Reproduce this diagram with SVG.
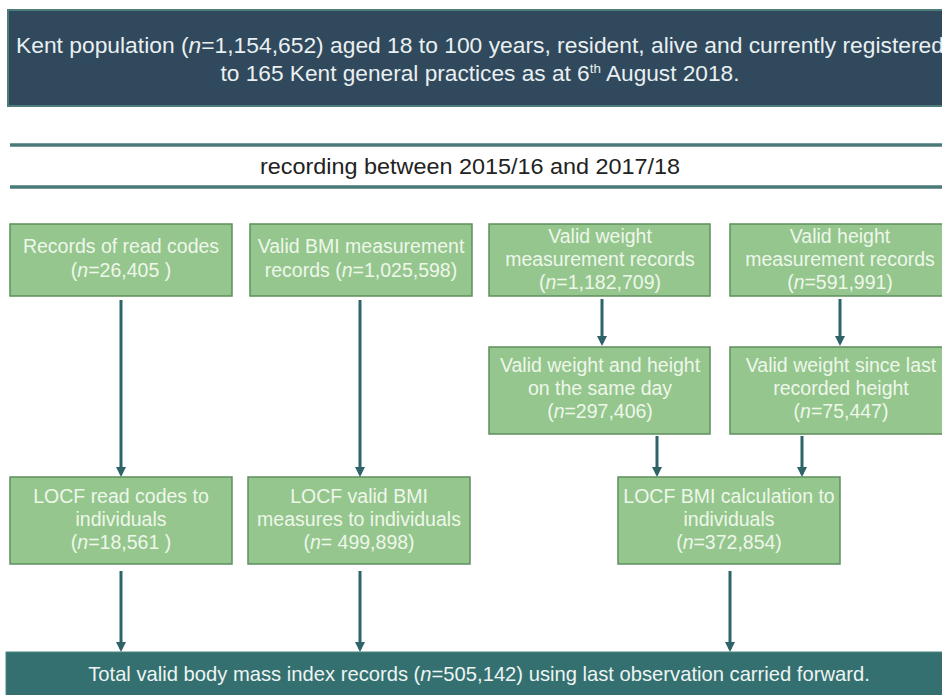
<svg xmlns="http://www.w3.org/2000/svg" width="942" height="695" viewBox="0 0 942 695">
<defs>
<style>
.hdr{fill:#30495c;stroke:#4d7c7b;stroke-width:2}
.foot{fill:#33706f;stroke:#4d8584;stroke-width:1}
.box{fill:#95c68e;stroke:#5f8e5c;stroke-width:1.5}
.bt{font-family:"Liberation Sans",Arial,sans-serif;font-size:19.5px;fill:#eef7ea;text-anchor:middle}
.ct{font-family:"Liberation Sans",Arial,sans-serif;text-anchor:middle}
.rule{stroke:#4a7a78;stroke-width:3.5}
.arr{stroke:#2e6468;stroke-width:3;fill:none;marker-end:url(#ah)}
.it{font-style:italic}
</style>
<marker id="ah" viewBox="0 0 10 10" refX="7" refY="5" markerWidth="11" markerHeight="10" markerUnits="userSpaceOnUse" orient="auto">
<path d="M0,0 L10,5 L0,10 z" fill="#2e6468"/>
</marker>
</defs>
<rect width="942" height="695" fill="#ffffff"/>

<g id="header">
<rect class="hdr" x="8" y="10" width="950" height="96"/>
<text class="ct" x="480" y="53" font-size="22" fill="#eaf0f2" textLength="928" lengthAdjust="spacingAndGlyphs">Kent population (<tspan class="it">n</tspan>=1,154,652) aged 18 to 100 years, resident, alive and currently registered</text>
<text class="ct" x="480" y="81" font-size="22" fill="#eaf0f2" textLength="519" lengthAdjust="spacingAndGlyphs">to 165 Kent general practices as at 6<tspan font-size="13" dy="-8">th</tspan><tspan dy="8"> August 2018.</tspan></text>
</g>

<g id="period">
<line class="rule" x1="10" y1="145" x2="942" y2="145"/>
<line class="rule" x1="10" y1="187" x2="942" y2="187"/>
<text class="ct" x="470" y="174" font-size="21.5" fill="#222222" textLength="420" lengthAdjust="spacingAndGlyphs">recording between  2015/16 and 2017/18</text>
</g>

<g id="n1">
<rect class="box" x="10" y="224" width="222" height="72"/>
<text class="bt" x="121" y="253">Records of read codes</text>
<text class="bt" x="121" y="277">(<tspan class="it">n</tspan>=26,405 )</text>
</g>
<g id="n2">
<rect class="box" x="250" y="224" width="222" height="72"/>
<text class="bt" x="361" y="253">Valid BMI measurement</text>
<text class="bt" x="361" y="277">records (<tspan class="it">n</tspan>=1,025,598)</text>
</g>
<g id="n3">
<rect class="box" x="489" y="224" width="221" height="72"/>
<text class="bt" x="600" y="243">Valid weight</text>
<text class="bt" x="600" y="266">measurement records</text>
<text class="bt" x="600" y="289">(<tspan class="it">n</tspan>=1,182,709)</text>
</g>
<g id="n4">
<rect class="box" x="730" y="224" width="222" height="72"/>
<text class="bt" x="840" y="243">Valid height</text>
<text class="bt" x="840" y="266">measurement records</text>
<text class="bt" x="840" y="289">(<tspan class="it">n</tspan>=591,991)</text>
</g>
<g id="n5">
<rect class="box" x="489" y="347" width="221" height="87"/>
<text class="bt" x="600" y="372">Valid weight and height</text>
<text class="bt" x="600" y="395">on the same day</text>
<text class="bt" x="600" y="418">(<tspan class="it">n</tspan>=297,406)</text>
</g>
<g id="n6">
<rect class="box" x="730" y="347" width="222" height="87"/>
<text class="bt" x="841" y="372">Valid weight since last</text>
<text class="bt" x="841" y="395">recorded height</text>
<text class="bt" x="841" y="418">(<tspan class="it">n</tspan>=75,447)</text>
</g>
<g id="n7">
<rect class="box" x="10" y="477" width="222" height="87"/>
<text class="bt" x="121" y="503">LOCF read codes to</text>
<text class="bt" x="121" y="526">individuals</text>
<text class="bt" x="121" y="549">(<tspan class="it">n</tspan>=18,561 )</text>
</g>
<g id="n8">
<rect class="box" x="248" y="477" width="222" height="87"/>
<text class="bt" x="359" y="503">LOCF valid BMI</text>
<text class="bt" x="359" y="526">measures to individuals</text>
<text class="bt" x="359" y="549">(<tspan class="it">n</tspan>= 499,898)</text>
</g>
<g id="n9">
<rect class="box" x="618" y="477" width="222" height="87"/>
<text class="bt" x="729" y="503">LOCF BMI calculation to</text>
<text class="bt" x="729" y="526">individuals</text>
<text class="bt" x="729" y="549">(<tspan class="it">n</tspan>=372,854)</text>
</g>

<g id="footer">
<rect class="foot" x="6" y="652" width="950" height="50"/>
<text class="ct" x="479" y="681" font-size="20.2" fill="#eef4f4">Total valid body mass index records (<tspan class="it">n</tspan>=505,142) using last observation carried forward.</text>
</g>

<g id="connectors">
<line class="arr" x1="121" y1="300" x2="121" y2="474"/>
<line class="arr" x1="360" y1="300" x2="360" y2="474"/>
<line class="arr" x1="602" y1="299" x2="602" y2="343"/>
<line class="arr" x1="840" y1="299" x2="840" y2="343"/>
<line class="arr" x1="657" y1="436" x2="657" y2="474"/>
<line class="arr" x1="802" y1="436" x2="802" y2="474"/>
<line class="arr" x1="121" y1="571" x2="121" y2="649"/>
<line class="arr" x1="360" y1="571" x2="360" y2="649"/>
<line class="arr" x1="730" y1="571" x2="730" y2="649"/>
</g>
</svg>
